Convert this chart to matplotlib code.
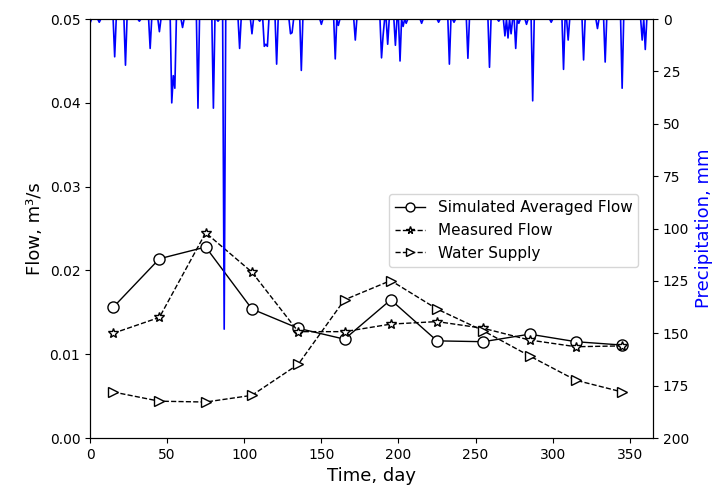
import matplotlib
matplotlib.use("Agg")
import matplotlib.pyplot as plt
import numpy as np

# monthly points (mid-month day)
days = [15, 45, 75, 105, 135, 165, 195, 225, 255, 285, 315, 345]
simulated = [0.0156, 0.0214, 0.0228, 0.0154, 0.0131, 0.0118,
             0.0165, 0.0116, 0.0115, 0.0124, 0.0115, 0.0111]
measured = [0.0125, 0.0144, 0.0245, 0.0198, 0.0127, 0.0127,
            0.0136, 0.0139, 0.0131, 0.0117, 0.0109, 0.0110]
water_supply = [0.0055, 0.0044, 0.0043, 0.0051, 0.0088, 0.0165,
                0.0188, 0.0154, 0.0128, 0.0098, 0.0069, 0.0055]

# daily precipitation, only the rainy days (others are 0)
rain_days = [0, 6, 16, 23, 32, 39, 45, 53, 54, 55, 60, 70, 80, 83, 87,
             97, 105, 110, 113, 114, 115, 121, 130, 131, 137, 150, 159, 161,
             172, 189, 190, 193, 198, 201, 203, 205, 215, 226, 233, 236, 245,
             259, 265, 269, 271, 273, 276, 278, 283, 287, 299, 307, 310, 320,
             329, 334, 345, 358, 360]
rain_mm = [2, 1.5, 18, 22, 1, 14, 6, 40, 27, 33, 4, 42.5, 42.5, 1, 148,
           14, 7, 1, 13, 12, 13, 21.5, 7, 6.5, 24.5, 2.5, 19, 3,
           10, 18.5, 8, 12, 12.5, 20, 3.5, 2, 2, 1.5, 21.5, 1.5, 18.7,
           23, 1, 8, 9, 7, 14, 2, 2.5, 39, 1.5, 24, 10, 19.5,
           4.5, 20.5, 33, 10, 14.5]

rain_t = np.arange(0, 366)
rain = np.zeros(len(rain_t))
rain[rain_days] = rain_mm

fig = plt.figure(figsize=(7.16, 4.9), dpi=100)
ax = fig.add_axes([0.1257, 0.106, 0.7863, 0.855])

ax.plot(days, simulated, "k-", lw=1, marker="o", ms=8, mfc="white",
        mec="black", label="Simulated Averaged Flow")
ax.plot(days, measured, "k--", lw=1, marker="*", ms=7, mfc="white",
        mec="black", label="Measured Flow")
ax.plot(days, water_supply, "k--", lw=1, marker=">", ms=7, mfc="white",
        mec="black", label="Water Supply")

ax.set_xlim(0, 365)
ax.set_ylim(0, 0.05)
ax.set_yticks(np.arange(0, 0.051, 0.01))
ax.set_xticks(np.arange(0, 351, 50))
ax.set_xlabel("Time, day", fontsize=13)
ax.set_ylabel("Flow, m³/s", fontsize=13)
ax.legend(loc="upper left", bbox_to_anchor=(0.517, 0.6), fontsize=11,
          markerscale=0.8)

ax2 = ax.twinx()
ax2.plot(rain_t, rain, color="blue", lw=1.2)
ax2.set_ylim(200, 0)
ax2.set_yticks(np.arange(0, 201, 25))
ax2.set_ylabel("Precipitation, mm", color="blue", fontsize=13)

fig.savefig("out.png", dpi=100)
